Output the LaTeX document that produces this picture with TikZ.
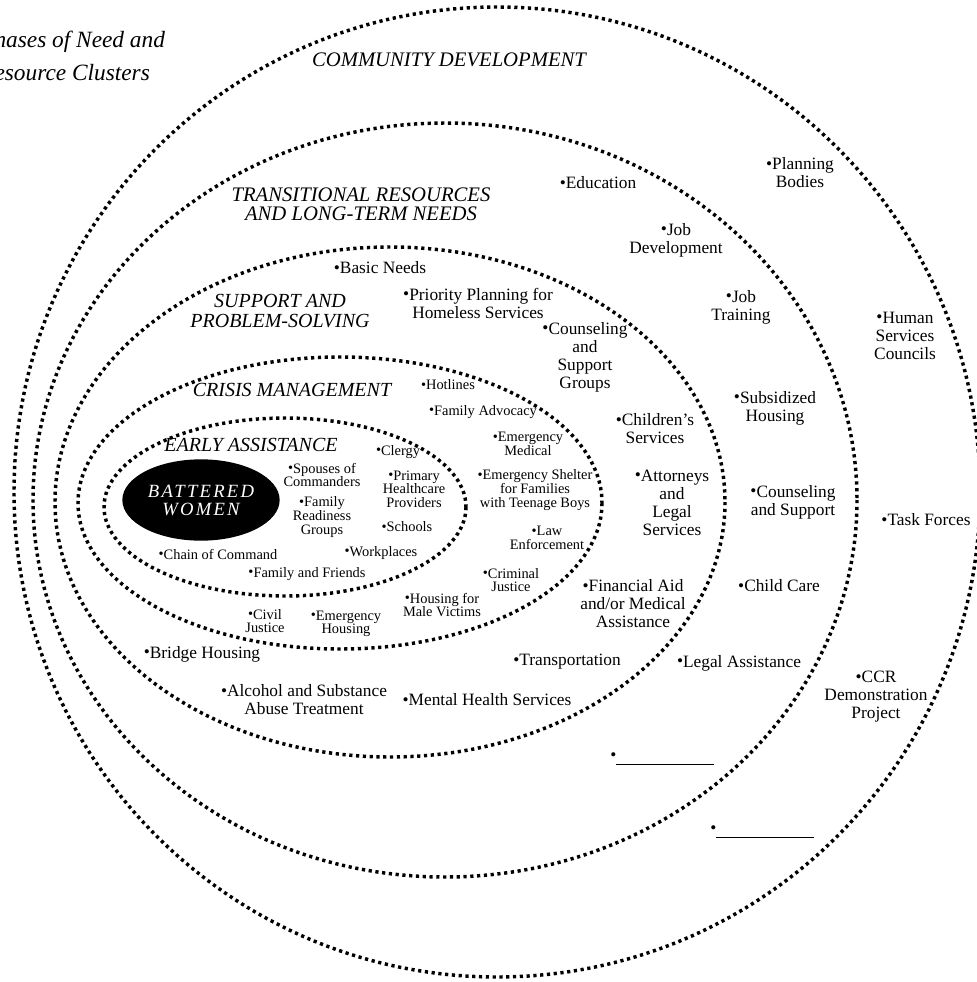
\documentclass[tikz,border=0pt]{standalone}
\usepackage{fontspec}
\setmainfont{Liberation Serif}
\usepackage{graphicx}
\usetikzlibrary{shapes.geometric}
\newcommand{\bul}{\raisebox{.1ex}{\textbullet}}
\newcommand{\blank}{\bul\rule[-2.5pt]{73pt}{.6pt}}
\begin{document}
\begin{tikzpicture}[
  x=0.75pt, y=-0.75pt,
  ring/.style={line width=2.6pt, dash pattern=on 2.4pt off 2.7pt},
  phase/.style={align=center, inner sep=0pt, font=\fontsize{15}{14.5}\selectfont\itshape},
  res/.style={align=center, inner sep=0pt, font=\fontsize{13}{13.5}\selectfont},
  resin/.style={align=center, inner sep=0pt, font=\fontsize{10.8}{10.2}\selectfont}
]
\useasboundingbox (0,0) rectangle (976,982);
\draw[ring] (497,492) ellipse [x radius=483, y radius=485];
\draw[ring] (445,500) ellipse [x radius=412, y radius=377];
\draw[ring] (390,502) ellipse [x radius=335, y radius=255];
\draw[ring] (340,503) ellipse [x radius=262, y radius=146];
\draw[ring] (285,507) ellipse [x radius=181, y radius=89];
\node[ellipse, fill=black, text=white, minimum width=118pt, minimum height=61pt, inner sep=0pt, align=center,
  font=\fontsize{14}{13.5}\selectfont\itshape\addfontfeatures{LetterSpace=12}] (bw) at (201,500) {BATTERED\\WOMEN};
\node[anchor=west, align=left, inner sep=0pt, font=\fontsize{17.5}{24.5}\selectfont\itshape] (title) at (-20,56) {Phases of Need and\\Resource Clusters};
\node[phase, font=\fontsize{15.5}{14.5}\selectfont\itshape] (cd) at (449,60) {COMMUNITY DEVELOPMENT};
\node[phase, font=\fontsize{15.5}{14.5}\selectfont\itshape] (tr) at (361,204) {TRANSITIONAL RESOURCES\\AND LONG-TERM NEEDS};
\node[phase] (sp) at (280,311) {SUPPORT AND\\PROBLEM-SOLVING};
\node[phase] (cm) at (292,390) {CRISIS MANAGEMENT};
\node[phase] (ea) at (251,445) {EARLY ASSISTANCE};
\node[res] (plan) at (800,173) {\bul Planning\\Bodies};
\node[res] (hsc) at (905,336) {\bul Human\\Services\\Councils};
\node[res] (task) at (926,520) {\bul Task Forces};
\node[res] (ccr) at (876,697) {\bul CCR\\Demonstration\\Project};
\node[res] (blank2) at (762,832) {\blank};
\node[res] (edu) at (598,183) {\bul Education};
\node[res] (jobdev) at (676,240) {\bul Job\\Development};
\node[res] (jobtr) at (741,307) {\bul Job\\Training};
\node[res] (subh) at (775,408) {\bul Subsidized\\Housing};
\node[res] (couns) at (793,502) {\bul Counseling\\and Support};
\node[res] (child) at (779,586) {\bul Child Care};
\node[res] (legal) at (739,663) {\bul Legal Assistance};
\node[res] (blank1) at (662,759) {\blank};
\node[res] (basic) at (380,268) {\bul Basic Needs};
\node[res] (prio) at (478,303) {\bul Priority Planning for\\Homeless Services};
\node[res] (csg) at (585,357) {\bul Counseling\\and\\Support\\Groups};
\node[res] (chs) at (655,429) {\bul Children's\\Services};
\node[res] (att) at (672,503) {\bul Attorneys\\and\\Legal\\Services};
\node[res] (fin) at (633,604) {\bul Financial Aid\\and/or Medical\\Assistance};
\node[res] (trans) at (567,662) {\bul Transportation};
\node[res] (mental) at (487,700) {\bul Mental Health Services};
\node[res] (alc) at (304,700) {\bul Alcohol and Substance\\Abuse Treatment};
\node[res] (bridge) at (202,654) {\bul Bridge Housing};
\node[resin] (hot) at (448,385) {\bul Hotlines};
\node[resin] (adv) at (483,412) {\bul Family Advocacy};
\node[resin] (emed) at (528,444) {\bul Emergency\\Medical};
\node[resin] (shel) at (535,490) {\bul Emergency Shelter\\for Families\\with Teenage Boys};
\node[resin] (law) at (547,538) {\bul Law\\Enforcement};
\node[resin] (crim) at (511,580) {\bul Criminal\\Justice};
\node[resin] (male) at (442,605) {\bul Housing for\\Male Victims};
\node[resin] (ehous) at (346,624) {\bul Emergency\\Housing};
\node[resin] (civil) at (265,621) {\bul Civil\\Justice};
\node[resin] (famf) at (307,574) {\bul Family and Friends};
\node[resin] (clergy) at (398,452) {\bul Clergy};
\node[resin] (spou) at (322,475) {\bul Spouses of\\Commanders};
\node[resin] (prim) at (414,489) {\bul Primary\\Healthcare\\Providers};
\node[resin] (fam) at (322,517) {\bul Family\\Readiness\\Groups};
\node[resin] (school) at (407,527) {\bul Schools};
\node[resin] (chain) at (218,554) {\bul Chain of Command};
\node[resin] (work) at (381,553) {\bul Workplaces};
\end{tikzpicture}
\end{document}
